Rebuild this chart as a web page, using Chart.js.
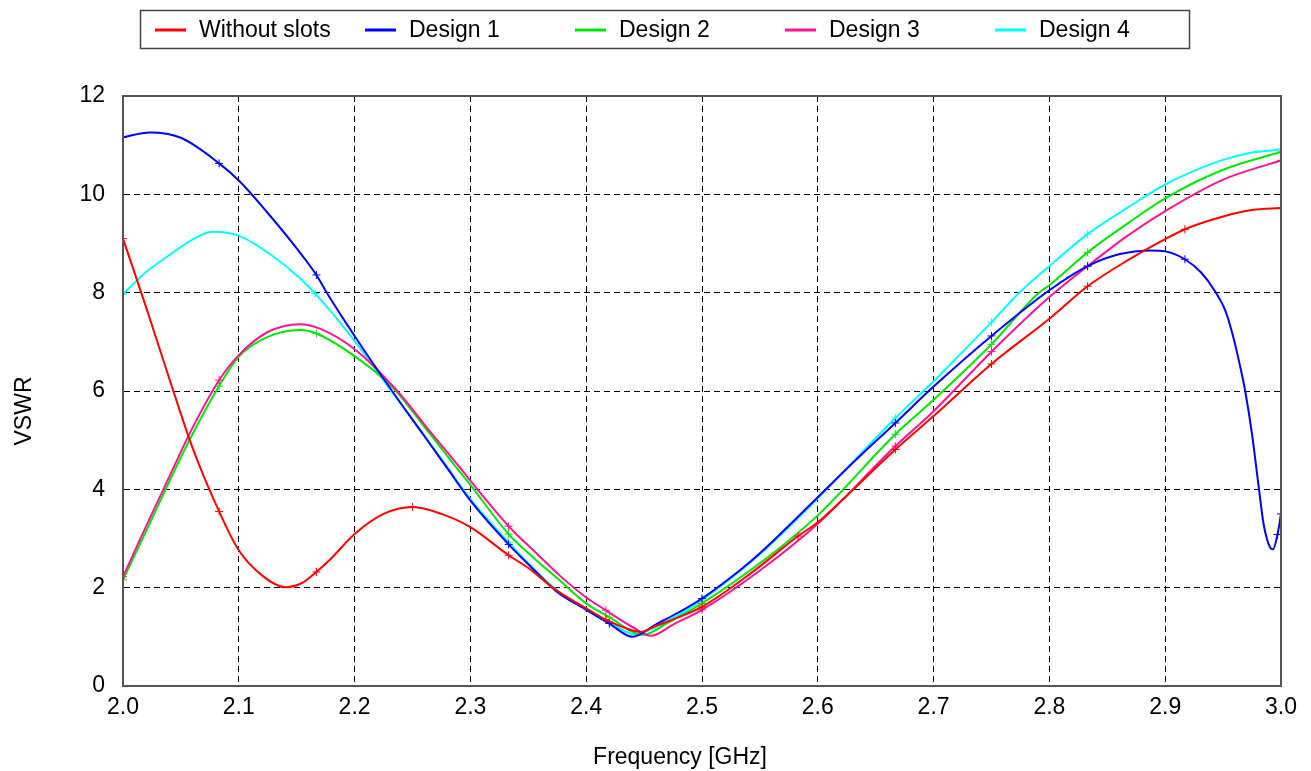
<!DOCTYPE html>
<html>
<head>
<meta charset="utf-8">
<script src="https://cdn.jsdelivr.net/npm/chart.js@4/dist/chart.umd.min.js"></script>
<style>
  html, body { margin: 0; padding: 0; background: #ffffff; }
  #wrap { width: 1311px; height: 771px; position: relative; }
</style>
</head>
<body>
<div id="wrap"><canvas id="c" width="1311" height="771"></canvas></div>
<script>
// ---------- DATA ----------
const seriesNames = ["Without slots", "Design 1", "Design 2", "Design 3", "Design 4"];
const seriesColors = ["#ff0000", "#0000ff", "#00e600", "#ff1493", "#00ffff"];
const xAxisTitle = "Frequency [GHz]";
const yAxisTitle = "VSWR";

const freqWithout = [2.0, 2.02, 2.04, 2.06, 2.083, 2.1, 2.12, 2.14, 2.155, 2.167, 2.18, 2.2, 2.225, 2.25, 2.275, 2.3, 2.333, 2.35, 2.374, 2.4, 2.417, 2.435, 2.447, 2.46, 2.48, 2.5, 2.542, 2.583, 2.6, 2.625, 2.667, 2.7, 2.75, 2.8, 2.833, 2.867, 2.9, 2.917, 2.95, 2.975, 3.0];
const vswrWithout = [9.1, 7.7, 6.25, 4.85, 3.55, 2.76, 2.25, 2.01, 2.1, 2.32, 2.6, 3.09, 3.5, 3.64, 3.5, 3.23, 2.66, 2.4, 1.95, 1.58, 1.35, 1.17, 1.1, 1.22, 1.4, 1.61, 2.29, 3.05, 3.33, 3.87, 4.81, 5.49, 6.55, 7.47, 8.13, 8.65, 9.09, 9.29, 9.55, 9.68, 9.72];

const freqD1 = [2.0, 2.023, 2.05, 2.083, 2.1, 2.125, 2.15, 2.167, 2.176, 2.2, 2.233, 2.26, 2.28, 2.3, 2.333, 2.355, 2.374, 2.4, 2.42, 2.44, 2.46, 2.48, 2.5, 2.533, 2.55, 2.6, 2.633, 2.667, 2.7, 2.75, 2.8, 2.833, 2.86, 2.888, 2.9, 2.917, 2.931, 2.943, 2.952, 2.959, 2.965, 2.969, 2.975, 2.981, 2.985, 2.9905, 2.993, 2.997, 3.0];
const vswrD1 = [11.16, 11.26, 11.15, 10.63, 10.28, 9.62, 8.9, 8.36, 8.0, 7.12, 5.98, 5.09, 4.43, 3.77, 2.88, 2.36, 1.93, 1.55, 1.27, 1.0, 1.25, 1.5, 1.78, 2.36, 2.7, 3.84, 4.6, 5.35, 6.09, 7.12, 8.05, 8.54, 8.78, 8.86, 8.84, 8.68, 8.41, 8.03, 7.63, 7.08, 6.47, 6.01, 5.12, 4.0, 3.29, 2.82, 2.78, 3.08, 3.5];

const freqD2 = [2.0, 2.02, 2.041, 2.06, 2.083, 2.1, 2.125, 2.153, 2.167, 2.2, 2.233, 2.26, 2.285, 2.3, 2.333, 2.355, 2.377, 2.4, 2.42, 2.449, 2.47, 2.5, 2.559, 2.6, 2.667, 2.7, 2.75, 2.79, 2.8, 2.833, 2.867, 2.9, 2.95, 3.0];
const vswrD2 = [2.16, 3.15, 4.21, 5.12, 6.1, 6.7, 7.1, 7.24, 7.17, 6.71, 6.07, 5.28, 4.53, 4.09, 3.09, 2.6, 2.15, 1.68, 1.4, 1.04, 1.28, 1.68, 2.66, 3.47, 5.12, 5.82, 6.95, 7.98, 8.15, 8.82, 9.4, 9.92, 10.5, 10.86];

const freqD3 = [2.0, 2.02, 2.041, 2.06, 2.083, 2.1, 2.125, 2.153, 2.171, 2.2, 2.235, 2.265, 2.291, 2.305, 2.333, 2.357, 2.377, 2.4, 2.417, 2.44, 2.456, 2.475, 2.5, 2.55, 2.6, 2.667, 2.7, 2.75, 2.8, 2.833, 2.867, 2.9, 2.95, 3.0];
const vswrD3 = [2.22, 3.25, 4.31, 5.25, 6.22, 6.73, 7.2, 7.36, 7.26, 6.85, 6.05, 5.18, 4.44, 4.03, 3.25, 2.7, 2.25, 1.8, 1.54, 1.2, 1.02, 1.25, 1.55, 2.35, 3.3, 4.88, 5.59, 6.8, 7.91, 8.54, 9.15, 9.66, 10.3, 10.69];

const freqD4 = [2.0, 2.02, 2.038, 2.06, 2.077, 2.1, 2.13, 2.153, 2.166, 2.2, 2.231, 2.26, 2.28, 2.3, 2.333, 2.371, 2.4, 2.42, 2.442, 2.46, 2.48, 2.5, 2.55, 2.6, 2.667, 2.7, 2.75, 2.774, 2.8, 2.833, 2.867, 2.9, 2.946, 2.975, 3.0];
const vswrD4 = [7.97, 8.42, 8.73, 9.08, 9.24, 9.16, 8.73, 8.29, 7.98, 7.02, 6.02, 5.1, 4.45, 3.8, 2.92, 2.02, 1.57, 1.3, 1.05, 1.2, 1.45, 1.75, 2.68, 3.82, 5.45, 6.2, 7.4, 8.0, 8.54, 9.19, 9.72, 10.2, 10.67, 10.85, 10.91];

const xTicks = [2.0, 2.1, 2.2, 2.3, 2.4, 2.5, 2.6, 2.7, 2.8, 2.9, 3.0];
const yTicks = [0, 2, 4, 6, 8, 10, 12];

// ---------- BUILD ----------
const FONT = "'Liberation Sans', Arial, sans-serif";
const FS = 23;
const freqs = [freqWithout, freqD1, freqD2, freqD3, freqD4];
const vswrs = [vswrWithout, vswrD1, vswrD2, vswrD3, vswrD4];

function isMark(x) {
  const k = x * 12;
  return Math.abs(k - Math.round(k)) < 0.04;
}

const drawOrder = [0, 1, 3, 2, 4];
const datasets = seriesNames.map((name, i) => ({
  label: name,
  data: freqs[i].map((f, j) => ({ x: f, y: vswrs[i][j] })),
  borderColor: seriesColors[i],
  backgroundColor: seriesColors[i],
  borderWidth: 2,
  cubicInterpolationMode: 'monotone',
  pointStyle: 'cross',
  pointRadius: ctx => (ctx.raw && isMark(ctx.raw.x)) ? 4 : 0,
  pointBorderWidth: 1,
  pointHoverRadius: 0,
  fill: false,
  order: drawOrder[i]
}));

const frameAndLegend = {
  id: 'frameAndLegend',
  afterDatasetsDraw(chart) {
    const { ctx, chartArea: a } = chart;
    ctx.save();
    ctx.strokeStyle = '#555555';
    ctx.lineWidth = 2;
    ctx.strokeRect(a.left, a.top, a.right - a.left, a.bottom - a.top);
    ctx.restore();
  },
  afterDraw(chart) {
    const { ctx, chartArea: a } = chart;
    ctx.save();
    // axis titles
    ctx.fillStyle = '#000000';
    ctx.font = FS + 'px ' + FONT;
    ctx.textAlign = 'center';
    ctx.textBaseline = 'middle';
    ctx.fillText(xAxisTitle, (a.left + a.right) / 2 - 22, 758);
    ctx.save();
    ctx.translate(25, (a.top + a.bottom) / 2 + 20);
    ctx.rotate(-Math.PI / 2);
    ctx.fillText(yAxisTitle, 0, 0);
    ctx.restore();
    // legend box
    ctx.strokeStyle = '#444444';
    ctx.lineWidth = 1.5;
    ctx.strokeRect(140.5, 10.5, 1049, 38);
    ctx.textBaseline = 'middle';
    ctx.textAlign = 'left';
    seriesNames.forEach((name, i) => {
      const x0 = 155 + i * 210;
      ctx.strokeStyle = seriesColors[i];
      ctx.lineWidth = 3;
      ctx.beginPath();
      ctx.moveTo(x0, 30);
      ctx.lineTo(x0 + 31, 30);
      ctx.stroke();
      ctx.fillStyle = '#000000';
      ctx.fillText(name, x0 + 44, 31);
    });
    ctx.restore();
  }
};

new Chart(document.getElementById('c'), {
  type: 'line',
  data: { datasets },
  plugins: [frameAndLegend],
  options: {
    responsive: false,
    animation: false,
    events: [],
    layout: { padding: { top: 96, right: 30, bottom: 0, left: 0 } },
    plugins: { legend: { display: false }, tooltip: { enabled: false } },
    scales: {
      x: {
        type: 'linear',
        min: 2.0, max: 3.0,
        afterBuildTicks: s => { s.ticks = xTicks.map(v => ({ value: v })); },
        afterFit: s => { s.height = 85; },
        ticks: {
          color: '#000000',
          font: { family: FONT, size: FS },
          padding: 8,
          maxRotation: 0,
          autoSkip: false,
          callback: v => Number(v).toFixed(1)
        },
        grid: { color: '#000000', lineWidth: 1, drawTicks: false },
        border: { display: true, color: '#555555', width: 2, dash: [6, 4] },
        title: { display: false }
      },
      y: {
        type: 'linear',
        min: 0, max: 12,
        afterBuildTicks: s => { s.ticks = yTicks.map(v => ({ value: v })); },
        afterFit: s => { s.width = 123; },
        ticks: {
          color: '#000000',
          font: { family: FONT, size: FS },
          padding: 18
        },
        grid: { color: '#000000', lineWidth: 1, drawTicks: false },
        border: { display: true, color: '#555555', width: 2, dash: [6, 4] },
        title: { display: false }
      }
    }
  }
});
</script>
</body>
</html>
